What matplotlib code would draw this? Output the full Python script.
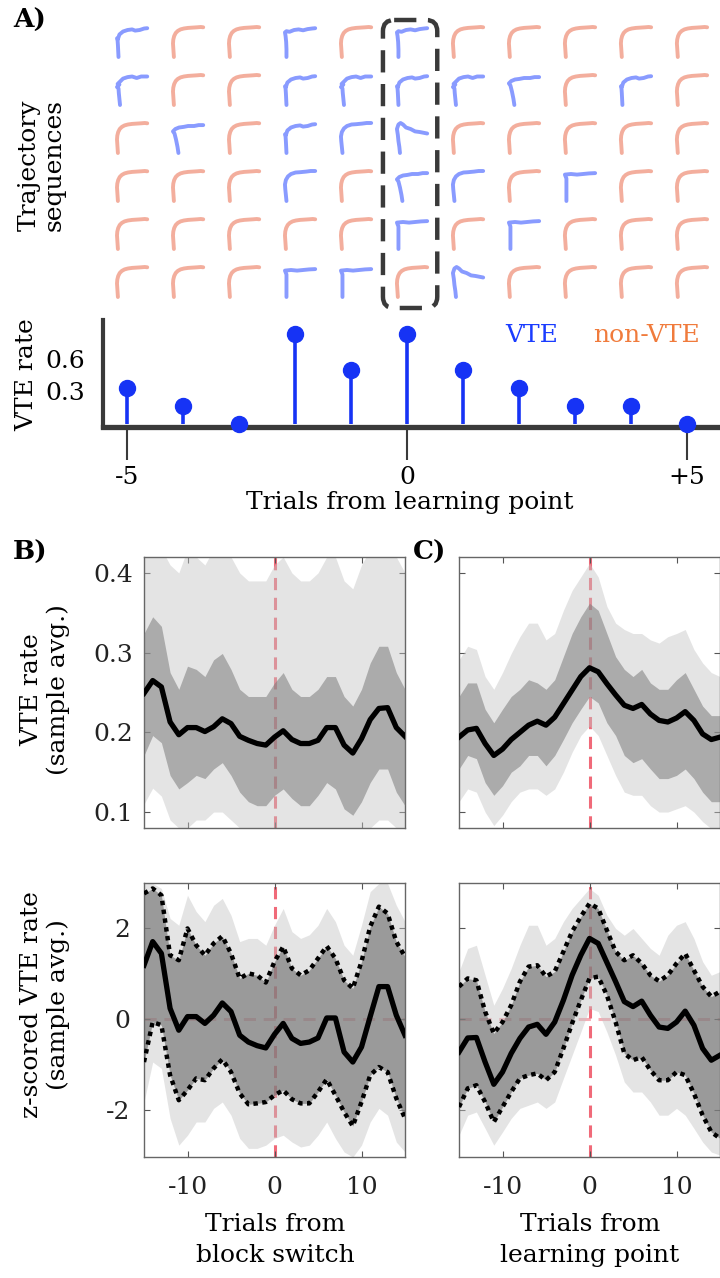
import numpy as np
import matplotlib.pyplot as plt
from matplotlib.patches import FancyBboxPatch

plt.rcParams['font.family'] = ['DejaVu Serif']

W, H = 720, 1278

# ---- panel A data -------------------------------------------------------
trials = np.arange(-5, 6)
# one trajectory per cell: 0 = smooth (non-VTE), >0 = VTE variant
traj_shape = np.array([
    [1, 0, 0, 2, 0, 2, 0, 0, 0, 0, 0],
    [3, 0, 0, 1, 3, 1, 3, 4, 0, 1, 0],
    [0, 4, 0, 1, 7, 5, 0, 0, 0, 0, 0],
    [0, 0, 0, 7, 0, 4, 7, 0, 6, 0, 0],
    [0, 0, 0, 0, 0, 6, 0, 6, 0, 0, 0],
    [0, 0, 0, 6, 6, 0, 5, 0, 0, 0, 0],
])
vte = traj_shape > 0
vte_rate = vte.mean(axis=0)

# normalised path templates (u to the right, v upwards)
templates = {
    0: ([0.03, 0.02, 0.01, 0.0, 0.01, 0.04, 0.09, 0.16, 0.25, 0.36, 0.5, 0.65, 0.8, 0.92, 1.0],
        [0.0, 0.15, 0.3, 0.45, 0.58, 0.7, 0.8, 0.87, 0.92, 0.95, 0.97, 0.98, 0.99, 1.0, 0.99]),
    1: ([0.05, 0.04, 0.03, 0.02, 0.0, 0.03, 0.08, 0.2, 0.35, 0.5, 0.6, 0.75, 0.9, 1.0],
        [0.0, 0.2, 0.4, 0.55, 0.62, 0.6, 0.75, 0.85, 0.9, 0.92, 0.88, 0.9, 0.95, 0.96]),
    2: ([0.05, 0.05, 0.04, 0.02, 0.0, 0.05, 0.15, 0.3, 0.45, 0.6, 0.75, 0.9, 1.0],
        [0.0, 0.25, 0.5, 0.7, 0.82, 0.86, 0.84, 0.9, 0.92, 0.89, 0.93, 0.95, 0.96]),
    3: ([0.1, 0.08, 0.06, 0.05, 0.0, 0.08, 0.02, 0.1, 0.2, 0.35, 0.5, 0.65, 0.8, 1.0],
        [0.0, 0.2, 0.4, 0.55, 0.6, 0.68, 0.7, 0.78, 0.88, 0.93, 0.95, 0.9, 0.95, 0.95]),
    4: ([0.18, 0.15, 0.1, 0.05, 0.0, 0.08, 0.2, 0.35, 0.5, 0.7, 0.85, 1.0],
        [0.0, 0.2, 0.45, 0.65, 0.72, 0.8, 0.85, 0.87, 0.9, 0.9, 0.93, 0.93]),
    5: ([0.1, 0.08, 0.05, 0.03, 0.0, 0.05, 0.12, 0.2, 0.3, 0.45, 0.6, 0.75, 1.0],
        [0.0, 0.2, 0.4, 0.6, 0.8, 0.95, 1.0, 0.95, 0.85, 0.8, 0.72, 0.7, 0.65]),
    6: ([0.05, 0.05, 0.05, 0.05, 0.0, 0.2, 0.4, 0.6, 0.8, 1.0],
        [0.0, 0.25, 0.5, 0.75, 0.88, 0.9, 0.88, 0.9, 0.92, 0.93]),
    7: ([0.05, 0.03, 0.01, 0.0, 0.03, 0.1, 0.2, 0.35, 0.5, 0.7, 0.85, 1.0],
        [0.0, 0.2, 0.4, 0.55, 0.7, 0.82, 0.9, 0.95, 0.96, 0.98, 1.0, 1.0]),
}

# ---- panels B/C data ----------------------------------------------------
t = np.arange(-15, 16)

b_mean = [0.249, 0.265, 0.257, 0.213, 0.197, 0.206, 0.206, 0.201, 0.207, 0.217, 0.211,
          0.195, 0.190, 0.186, 0.184, 0.194, 0.202, 0.191, 0.186, 0.186, 0.190, 0.206,
          0.206, 0.184, 0.174, 0.192, 0.216, 0.230, 0.231, 0.206, 0.195]
b_core_hi = [0.324, 0.345, 0.333, 0.275, 0.254, 0.283, 0.279, 0.270, 0.291, 0.299, 0.279,
             0.254, 0.245, 0.245, 0.245, 0.262, 0.275, 0.254, 0.245, 0.245, 0.254, 0.270,
             0.270, 0.245, 0.233, 0.254, 0.287, 0.308, 0.308, 0.275, 0.254]
b_core_lo = [0.171, 0.196, 0.187, 0.146, 0.129, 0.137, 0.146, 0.142, 0.154, 0.162, 0.146,
             0.125, 0.113, 0.108, 0.108, 0.121, 0.129, 0.117, 0.108, 0.108, 0.121, 0.137,
             0.129, 0.104, 0.096, 0.113, 0.137, 0.154, 0.154, 0.125, 0.108]
b_out_hi = [0.43, 0.43, 0.43, 0.41, 0.40, 0.43, 0.42, 0.41, 0.43, 0.43, 0.42, 0.40, 0.39,
            0.39, 0.39, 0.41, 0.42, 0.40, 0.39, 0.39, 0.40, 0.42, 0.42, 0.39, 0.38, 0.41,
            0.43, 0.43, 0.43, 0.42, 0.40]
b_out_lo = [0.11, 0.13, 0.12, 0.09, 0.08, 0.08, 0.09, 0.09, 0.10, 0.10, 0.09, 0.08, 0.07,
            0.07, 0.07, 0.07, 0.08, 0.07, 0.07, 0.07, 0.08, 0.08, 0.08, 0.07, 0.07, 0.07,
            0.08, 0.09, 0.09, 0.08, 0.07]

c_mean = [0.194, 0.203, 0.205, 0.186, 0.171, 0.179, 0.191, 0.200, 0.209, 0.214, 0.209,
          0.219, 0.236, 0.253, 0.270, 0.281, 0.276, 0.261, 0.247, 0.234, 0.230, 0.235,
          0.223, 0.215, 0.213, 0.218, 0.226, 0.215, 0.198, 0.191, 0.194]
c_core_hi = [0.245, 0.262, 0.262, 0.229, 0.212, 0.229, 0.245, 0.254, 0.266, 0.262, 0.254,
             0.266, 0.295, 0.324, 0.345, 0.362, 0.353, 0.324, 0.295, 0.279, 0.270, 0.279,
             0.262, 0.254, 0.254, 0.266, 0.275, 0.254, 0.233, 0.221, 0.221]
c_core_lo = [0.154, 0.171, 0.167, 0.137, 0.121, 0.133, 0.150, 0.158, 0.171, 0.171, 0.158,
             0.171, 0.191, 0.212, 0.229, 0.245, 0.237, 0.212, 0.196, 0.171, 0.162, 0.167,
             0.154, 0.142, 0.142, 0.146, 0.154, 0.142, 0.125, 0.113, 0.113]
c_out_hi = [0.291, 0.308, 0.304, 0.270, 0.254, 0.275, 0.299, 0.320, 0.337, 0.337, 0.316,
            0.324, 0.353, 0.378, 0.395, 0.412, 0.395, 0.358, 0.337, 0.329, 0.324, 0.324,
            0.316, 0.312, 0.320, 0.324, 0.329, 0.304, 0.287, 0.275, 0.270]
c_out_lo = [0.113, 0.129, 0.125, 0.100, 0.083, 0.096, 0.113, 0.125, 0.129, 0.129, 0.121,
            0.129, 0.150, 0.175, 0.196, 0.208, 0.196, 0.171, 0.146, 0.125, 0.121, 0.121,
            0.108, 0.100, 0.100, 0.104, 0.108, 0.100, 0.088, 0.079, 0.079]

bz_mean = [1.19, 1.71, 1.45, 0.24, -0.24, 0.06, 0.06, -0.09, 0.09, 0.36, 0.17, -0.35,
           -0.50, -0.58, -0.63, -0.33, -0.09, -0.42, -0.53, -0.50, -0.41, 0.03, 0.03,
           -0.72, -0.94, -0.61, 0.06, 0.72, 0.72, 0.09, -0.35]
bz_hi = [2.77, 2.88, 2.73, 1.41, 1.30, 2.00, 1.63, 1.41, 1.67, 1.83, 1.45, 0.90, 1.01,
         0.97, 0.81, 1.27, 1.60, 1.12, 0.97, 1.08, 1.34, 1.61, 1.34, 0.86, 0.68, 1.27,
         2.04, 2.48, 2.33, 1.71, 1.38]
bz_lo = [-0.94, -0.06, -0.13, -1.23, -1.78, -1.56, -1.30, -1.34, -1.08, -0.88, -1.16,
         -1.63, -1.87, -1.85, -1.82, -1.67, -1.56, -1.76, -1.85, -1.85, -1.60, -1.32,
         -1.67, -2.04, -2.35, -1.82, -1.23, -1.05, -1.16, -1.74, -2.18]
bz_out_hi = [2.99, 2.99, 2.88, 2.22, 2.07, 2.73, 2.37, 2.15, 2.51, 2.66, 2.29, 1.71, 1.78,
             1.78, 1.63, 2.07, 2.44, 1.93, 1.78, 1.86, 2.07, 2.44, 2.15, 1.63, 1.41, 2.07,
             2.81, 2.99, 2.99, 2.51, 2.15]
bz_out_lo = [-1.82, -0.94, -1.08, -2.18, -2.77, -2.55, -2.26, -2.26, -1.96, -1.82, -2.11,
             -2.62, -2.84, -2.84, -2.77, -2.62, -2.55, -2.70, -2.81, -2.77, -2.55, -2.26,
             -2.62, -2.92, -3.03, -2.77, -2.26, -1.96, -2.11, -2.70, -2.92]

cz_mean = [-0.72, -0.41, -0.40, -0.94, -1.43, -1.16, -0.75, -0.42, -0.17, -0.11, -0.33,
           -0.06, 0.42, 0.97, 1.41, 1.78, 1.67, 1.25, 0.83, 0.39, 0.28, 0.40, 0.09, -0.17,
           -0.20, -0.06, 0.18, -0.13, -0.64, -0.90, -0.79]
cz_hi = [0.72, 0.90, 0.86, 0.17, -0.31, -0.06, 0.31, 0.83, 1.16, 1.19, 0.94, 1.05, 1.49,
         1.93, 2.26, 2.55, 2.44, 1.96, 1.49, 1.30, 1.41, 1.23, 0.97, 0.84, 0.97, 1.23, 1.45,
         1.08, 0.72, 0.50, 0.61]
cz_lo = [-1.93, -1.52, -1.45, -1.82, -2.26, -1.93, -1.60, -1.30, -1.23, -1.19, -1.34,
         -1.16, -0.64, -0.09, 0.42, 0.90, 0.94, 0.53, -0.06, -0.75, -0.90, -0.83, -1.12,
         -1.34, -1.34, -1.16, -1.23, -1.63, -2.11, -2.48, -2.62]
cz_out_hi = [1.05, 1.56, 1.63, 0.97, 0.31, 0.68, 1.12, 1.63, 2.07, 2.07, 1.63, 1.78, 2.15,
             2.44, 2.66, 2.88, 2.73, 2.29, 2.00, 1.85, 2.00, 1.78, 1.56, 1.41, 1.85, 2.07,
             2.15, 1.78, 1.27, 0.97, 1.05]
cz_out_lo = [-2.55, -2.11, -2.04, -2.40, -2.77, -2.48, -2.18, -1.96, -1.89, -1.82, -1.96,
             -1.82, -1.30, -0.79, -0.28, 0.24, 0.17, -0.28, -0.79, -1.38, -1.60, -1.60,
             -1.82, -2.11, -2.11, -1.96, -2.11, -2.40, -2.70, -2.92, -2.99]

# ---- figure -------------------------------------------------------------
fig = plt.figure(figsize=(W / 100, H / 100), dpi=100)


def box(x0, y0, x1, y1):
    return [x0 / W, 1 - y1 / H, (x1 - x0) / W, (y1 - y0) / H]


def ftext(x, y, s, **kw):
    kw.setdefault('ha', 'center')
    kw.setdefault('va', 'center')
    fig.text(x / W, 1 - y / H, s, **kw)


FS = 18
DARK = '#3a3a3a'
BLUE = '#1633f5'

# trajectory grid (y measured in column widths so the box corners stay round)
unit = 56.0
ax_t = fig.add_axes(box(103, 12, 720, 312))
ax_t.set_xlim(-5.43, 5.59)
ax_t.set_ylim(300 / unit, 0)
ax_t.axis('off')
for r in range(traj_shape.shape[0]):
    for c, trial in enumerate(trials):
        k = traj_shape[r, c]
        u, v = templates[k]
        xs = trial - 0.18 + np.array(u) * 0.54
        ys = (45 + 48 * r - np.array(v) * 30) / unit
        if k > 0:
            ax_t.plot(xs, ys, color='#4a66ff', lw=2.8, alpha=0.65,
                      solid_capstyle='round', solid_joinstyle='round')
        else:
            ax_t.plot(xs, ys, color='#ee8c74', lw=2.8, alpha=0.7,
                      solid_capstyle='round', solid_joinstyle='round')

ax_t.add_patch(FancyBboxPatch((-0.43, 8 / unit), 0.97, 288 / unit,
                              boxstyle='round,pad=0,rounding_size=0.2',
                              fill=False, ec=DARK, lw=3.2, ls=(0, (5, 2.6)),
                              clip_on=False, zorder=5))

# VTE rate stems
ax_s = fig.add_axes(box(103, 320, 720, 427))
ax_s.set_xlim(-5.43, 5.59)
ax_s.set_ylim(-0.028, 0.96)
ax_s.vlines(trials, 0, vte_rate, color=BLUE, lw=2.6, zorder=2)
ax_s.plot(trials, vte_rate, 'o', ms=11.5, color=BLUE, zorder=3, clip_on=False)
for side in ['top', 'right']:
    ax_s.spines[side].set_visible(False)
ax_s.spines['left'].set_linewidth(3)
ax_s.spines['left'].set_color(DARK)
ax_s.spines['bottom'].set_linewidth(3.8)
ax_s.spines['bottom'].set_color(DARK)
ax_s.set_xticks([-5, 0, 5])
ax_s.set_xticklabels(['-5', '0', '+5'])
ax_s.tick_params(axis='x', length=24, width=1.5, color=DARK, pad=4, labelsize=FS)
ax_s.set_yticks([0.3, 0.6])
ax_s.set_yticklabels(['0.3', '0.6'])
ax_s.tick_params(axis='y', length=0, pad=13, labelsize=FS)
ax_s.patch.set_alpha(0)

ftext(532, 336, 'VTE', color='#1a3cff', fontsize=FS)
ftext(647, 336, 'non-VTE', color='#f07b3c', fontsize=FS)
ftext(410, 503, 'Trials from learning point', fontsize=FS)
ftext(42, 165, 'Trajectory\nsequences', rotation=90, fontsize=FS, linespacing=1.1)
ftext(27, 375, 'VTE rate', rotation=90, fontsize=FS)

ftext(30, 20, 'A)', fontsize=19, fontweight='bold')
ftext(30, 552, 'B)', fontsize=19, fontweight='bold')
ftext(430, 552, 'C)', fontsize=19, fontweight='bold')


def fan_panel(ax, out_lo, out_hi, core_lo, core_hi, mean, dotted=False):
    ax.axvline(0, color='#ef5a6a', lw=2.2, ls=(0, (4, 2.5)), alpha=0.9, zorder=1)
    if dotted:
        ax.axhline(0, color='#ef5a6a', lw=2.2, ls=(0, (4, 2.5)), alpha=0.5, zorder=1)
    ax.fill_between(t, out_lo, out_hi, color='#c4c4c4', alpha=0.45, lw=0, zorder=2)
    if dotted:
        ax.fill_between(t, core_lo, core_hi, color='#6a6a6a', alpha=0.6, lw=0, zorder=3)
        ax.plot(t, core_hi, color='black', lw=3.2, ls=(0, (1, 1)), zorder=4)
        ax.plot(t, core_lo, color='black', lw=3.2, ls=(0, (1, 1)), zorder=4)
    else:
        ax.fill_between(t, core_lo, core_hi, color='#7c7c7c', alpha=0.55, lw=0, zorder=3)
    ax.plot(t, mean, color='black', lw=3.8, zorder=5, solid_joinstyle='round')
    ax.set_xlim(-15, 15)
    ax.set_xticks([-10, 0, 10])
    for sp in ax.spines.values():
        sp.set_color('#666666')
        sp.set_linewidth(1.0)
    ax.tick_params(direction='in', top=True, right=True, length=4, width=0.8,
                   color='#555555', labelsize=FS, labelcolor='#222222')


ax_b1 = fig.add_axes(box(144, 557, 405, 828))
fan_panel(ax_b1, b_out_lo, b_out_hi, b_core_lo, b_core_hi, b_mean)
ax_c1 = fig.add_axes(box(459, 557, 720, 828))
fan_panel(ax_c1, c_out_lo, c_out_hi, c_core_lo, c_core_hi, c_mean)
for ax in (ax_b1, ax_c1):
    ax.set_ylim(0.08, 0.42)
    ax.set_yticks([0.1, 0.2, 0.3, 0.4])
    ax.set_xticklabels([])
ax_b1.set_yticklabels(['0.1', '0.2', '0.3', '0.4'])
ax_c1.set_yticklabels([])

ax_b2 = fig.add_axes(box(144, 883, 405, 1157))
fan_panel(ax_b2, bz_out_lo, bz_out_hi, bz_lo, bz_hi, bz_mean, dotted=True)
ax_c2 = fig.add_axes(box(459, 883, 720, 1157))
fan_panel(ax_c2, cz_out_lo, cz_out_hi, cz_lo, cz_hi, cz_mean, dotted=True)
for ax in (ax_b2, ax_c2):
    ax.set_ylim(-3.03, 3.0)
    ax.set_yticks([-2, 0, 2])
    ax.set_xticklabels(['-10', '0', '10'])
    ax.tick_params(axis='x', pad=14)
ax_b2.set_yticklabels(['-2', '0', '2'])
ax_c2.set_yticklabels([])
ax_b2.tick_params(axis='y', pad=10)
ax_b1.tick_params(axis='y', pad=8)

ftext(45, 690, 'VTE rate\n(sample avg.)', rotation=90, fontsize=FS, linespacing=1.15)
ftext(45, 1005, 'z-scored VTE rate\n(sample avg.)', rotation=90, fontsize=FS,
      linespacing=1.15)
ftext(275, 1240, 'Trials from\nblock switch', fontsize=FS, linespacing=1.45)
ftext(590, 1240, 'Trials from\nlearning point', fontsize=FS, linespacing=1.45)

fig.savefig('out.png', dpi=100)
